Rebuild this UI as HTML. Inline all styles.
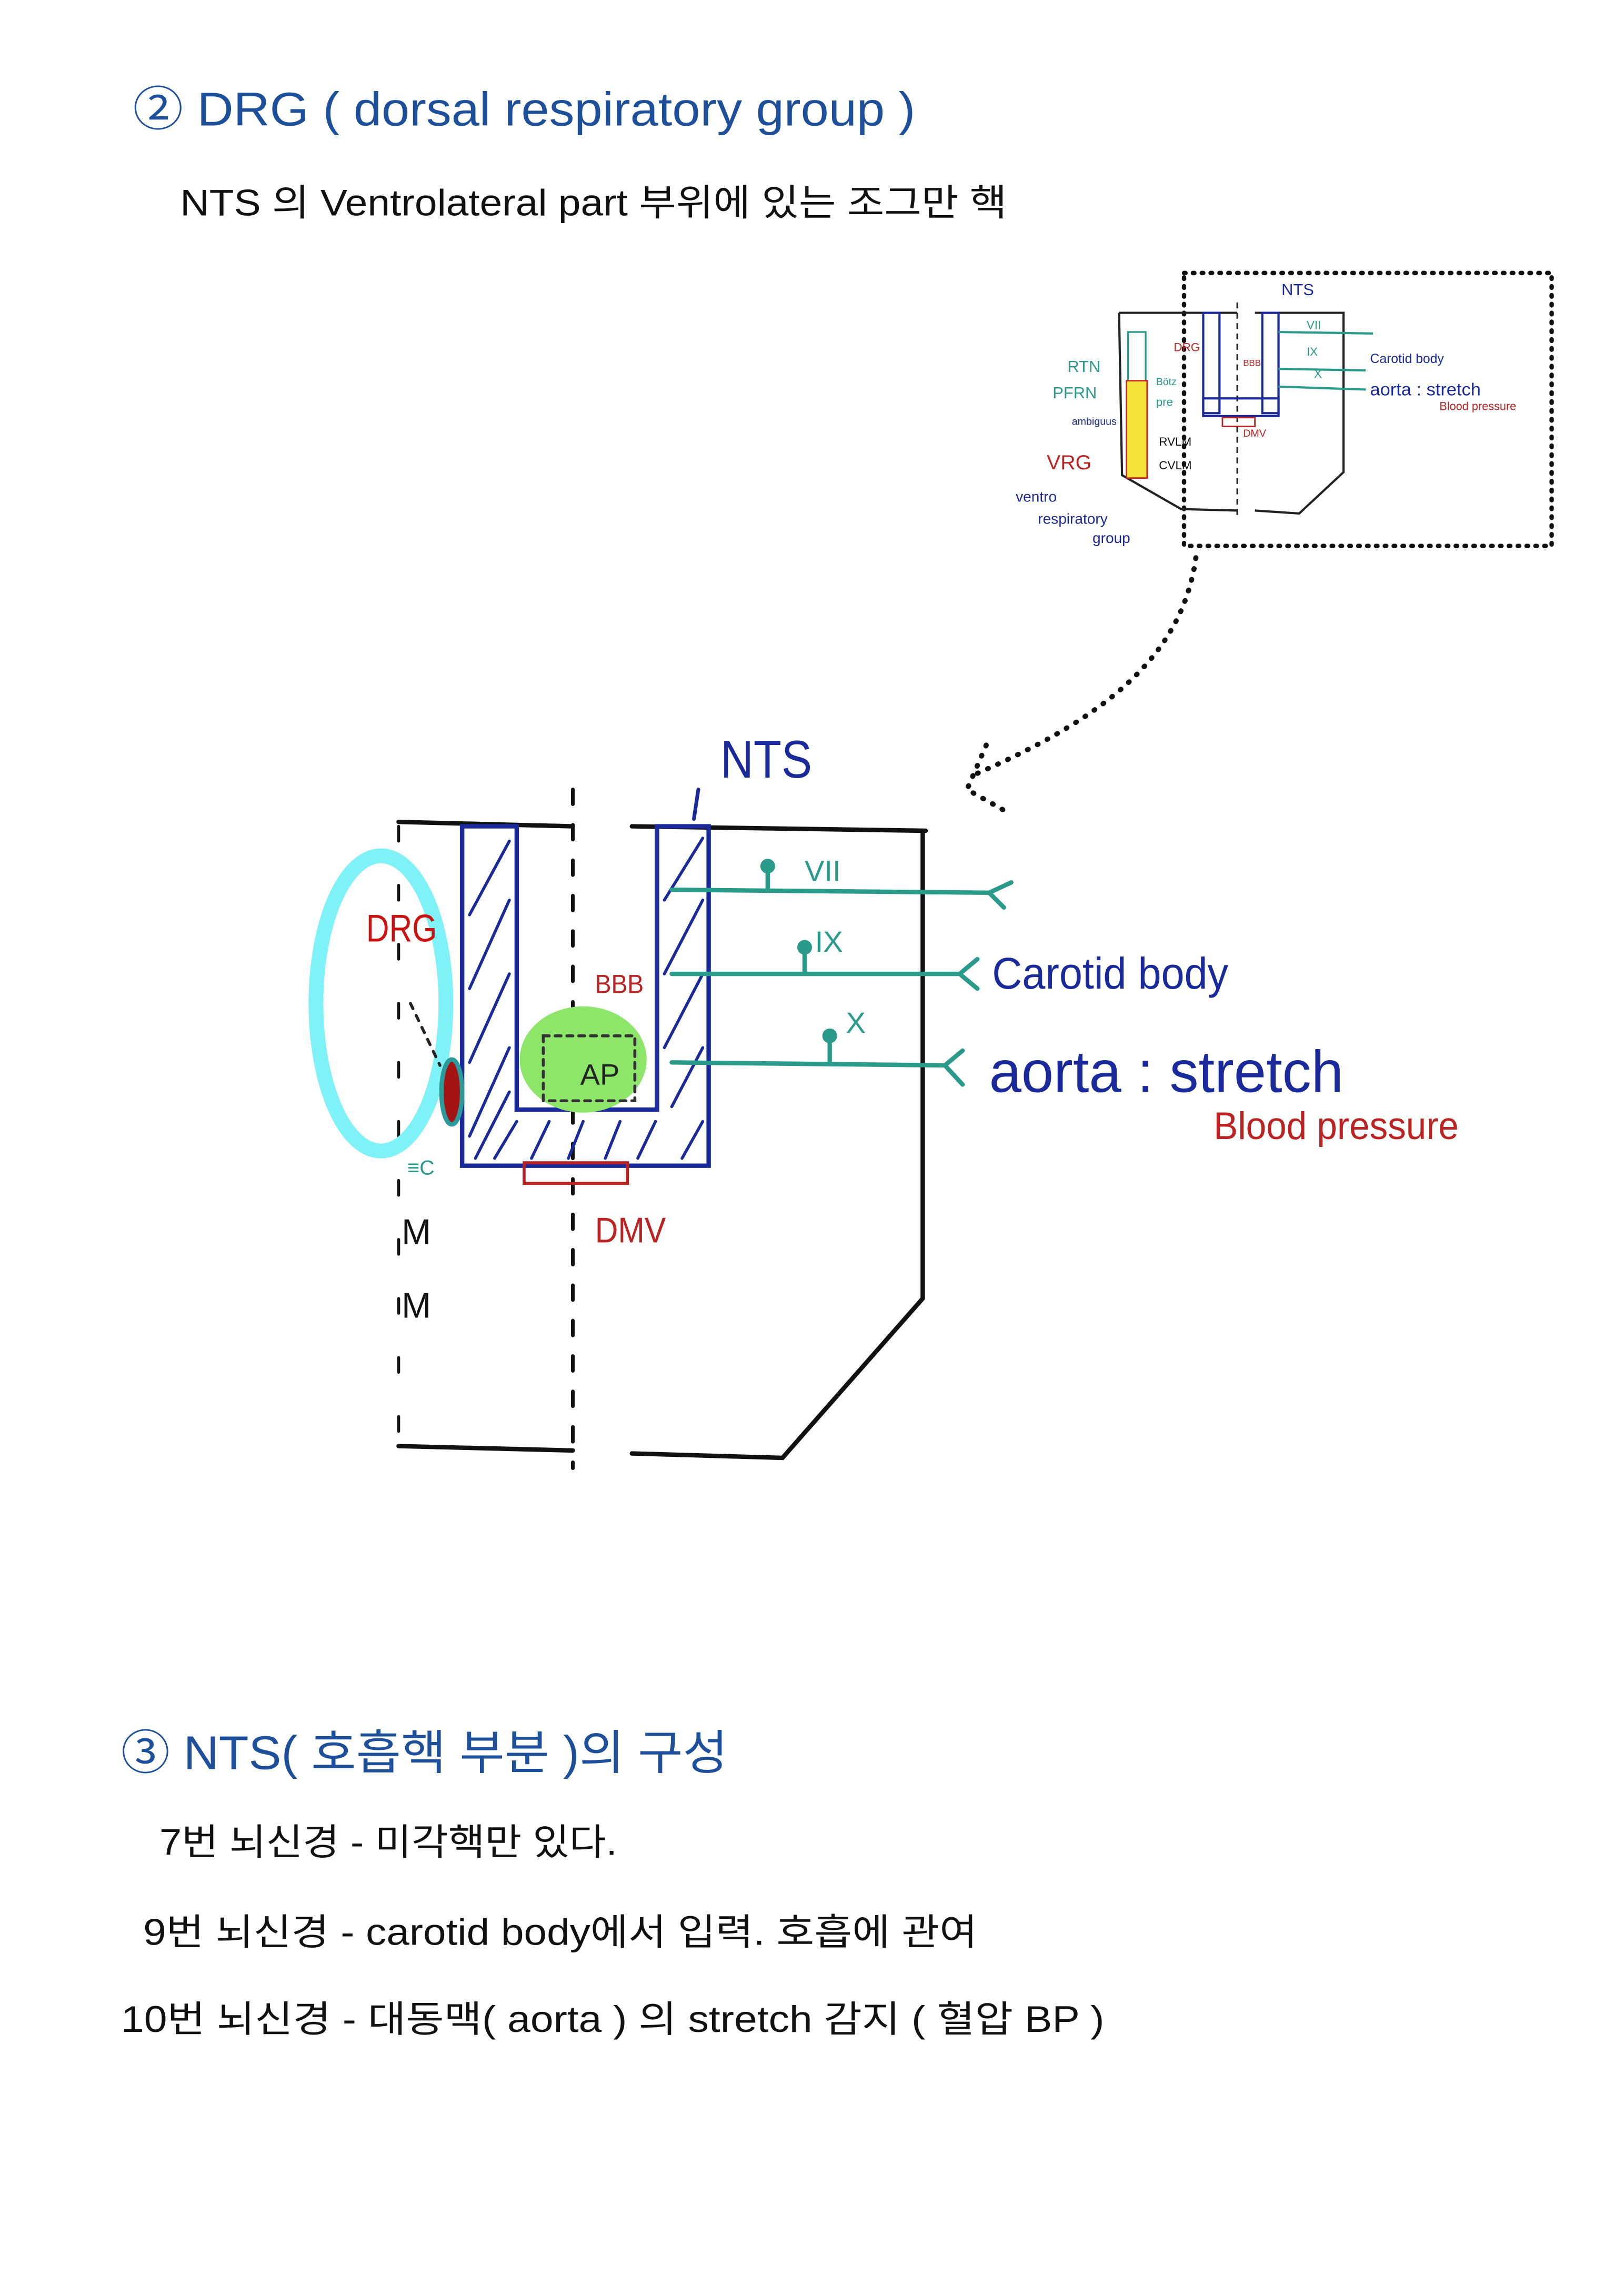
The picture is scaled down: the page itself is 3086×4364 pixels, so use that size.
<!DOCTYPE html>
<html><head><meta charset="utf-8"><style>
html,body{margin:0;padding:0;background:#fff;}
svg{display:block;}
.t{font-family:"Liberation Sans","Noto Sans CJK KR",sans-serif;}
.h{font-family:"Liberation Sans",sans-serif;}
</style></head><body>
<svg width="3086" height="4364" viewBox="0 0 1100 1556" preserveAspectRatio="none" xmlns="http://www.w3.org/2000/svg">
<rect width="1100" height="1556" fill="#fff"/>
<!-- headings -->
<text class="t" x="90" y="85" font-size="32" fill="#1d4f9a" textLength="530" lengthAdjust="spacingAndGlyphs">② DRG ( dorsal respiratory group )</text>
<text class="t" x="122" y="146" font-size="25" fill="#111" textLength="560" lengthAdjust="spacingAndGlyphs">NTS 의 Ventrolateral part 부위에 있는 조그만 핵</text>
<text class="t" x="82" y="1199" font-size="32" fill="#1d4f9a" textLength="411" lengthAdjust="spacingAndGlyphs">③ NTS( 호흡핵 부분 )의 구성</text>
<text class="t" x="108" y="1257" font-size="25" fill="#111" textLength="310" lengthAdjust="spacingAndGlyphs">7번 뇌신경 - 미각핵만 있다.</text>
<text class="t" x="97" y="1318" font-size="25" fill="#111" textLength="565" lengthAdjust="spacingAndGlyphs">9번 뇌신경 -  carotid body에서 입력. 호흡에 관여</text>
<text class="t" x="82" y="1377" font-size="25" fill="#111" textLength="666" lengthAdjust="spacingAndGlyphs">10번 뇌신경  -  대동맥( aorta ) 의 stretch 감지 ( 혈압 BP )</text>

<!-- inset -->
<g>
<rect x="802" y="185" width="249" height="185" fill="none" stroke="#111" stroke-width="3" stroke-dasharray="1 5" stroke-linecap="round"/>
<path d="M758 212 L838 212 M850 212 L910 212 L910 320 L880 348 L850 346 M838 346 L800 345 L760 322 L758 212" fill="none" stroke="#222" stroke-width="1.5"/>
<line x1="838" y1="205" x2="838" y2="350" stroke="#222" stroke-width="1" stroke-dasharray="4 3"/>
<rect x="815" y="212" width="11" height="68" fill="none" stroke="#1a2a9a" stroke-width="1.5"/>
<rect x="855" y="212" width="11" height="68" fill="none" stroke="#1a2a9a" stroke-width="1.5"/>
<rect x="815" y="270" width="51" height="12" fill="none" stroke="#1a2a9a" stroke-width="1.5"/>
<rect x="828" y="283" width="22" height="6" fill="none" stroke="#b22" stroke-width="1"/>
<rect x="764" y="225" width="12" height="42" fill="none" stroke="#2a9a8a" stroke-width="1.2"/>
<rect x="763" y="258" width="14" height="66" fill="#f5e43a" stroke="#c22" stroke-width="1"/>
<path d="M866 225 L930 226 M866 250 L925 251 M866 262 L925 264" stroke="#2a9a8a" stroke-width="1.5" fill="none"/>
<text class="h" x="868" y="200" font-size="11" fill="#1a2a9a">NTS</text>
<text class="h" x="885" y="223" font-size="8" fill="#2a9a8a">VII</text>
<text class="h" x="885" y="241" font-size="8" fill="#2a9a8a">IX</text>
<text class="h" x="890" y="256" font-size="8" fill="#2a9a8a">X</text>
<text class="h" x="928" y="246" font-size="9" fill="#1a2a9a" textLength="50" lengthAdjust="spacingAndGlyphs">Carotid body</text>
<text class="h" x="928" y="268" font-size="12" fill="#1a2a9a" textLength="75" lengthAdjust="spacingAndGlyphs">aorta : stretch</text>
<text class="h" x="975" y="278" font-size="8" fill="#b22" textLength="52" lengthAdjust="spacingAndGlyphs">Blood pressure</text>
<text class="h" x="723" y="252" font-size="11" fill="#2a9a8a">RTN</text>
<text class="h" x="713" y="270" font-size="11" fill="#2a9a8a">PFRN</text>
<text class="h" x="726" y="288" font-size="7" fill="#1a2a9a">ambiguus</text>
<text class="h" x="709" y="318" font-size="14" fill="#b22">VRG</text>
<text class="h" x="785" y="302" font-size="8" fill="#111">RVLM</text>
<text class="h" x="785" y="318" font-size="8" fill="#111">CVLM</text>
<text class="h" x="783" y="261" font-size="7" fill="#2a9a8a">Bötz</text>
<text class="h" x="783" y="275" font-size="8" fill="#2a9a8a">pre</text>
<text class="h" x="795" y="238" font-size="8" fill="#b22">DRG</text>
<text class="h" x="842" y="248" font-size="6" fill="#b22">BBB</text>
<text class="h" x="842" y="296" font-size="7" fill="#b22">DMV</text>
<text class="h" x="688" y="340" font-size="10" fill="#1a2a9a">ventro</text>
<text class="h" x="703" y="355" font-size="10" fill="#1a2a9a">respiratory</text>
<text class="h" x="740" y="368" font-size="10" fill="#1a2a9a">group</text>
</g>
<!-- dotted arrow -->
<path d="M810 378 C800 450 740 490 660 525" fill="none" stroke="#111" stroke-width="3.5" stroke-dasharray="0.5 7" stroke-linecap="round"/>
<path d="M668 505 L655 535 L685 552" fill="none" stroke="#111" stroke-width="3.5" stroke-dasharray="0.5 7" stroke-linecap="round"/>

<!-- main diagram -->
<g fill="none" stroke-linecap="round">
<path d="M270 557 L388 560 M428 560 L627 563" stroke="#111" stroke-width="3"/>
<path d="M625 563 L625 880 L530 988 L428 985" stroke="#111" stroke-width="3"/>
<path d="M270 980 L388 983" stroke="#111" stroke-width="3"/>
<line x1="388" y1="535" x2="388" y2="995" stroke="#111" stroke-width="2.5" stroke-dasharray="10 14"/>
<line x1="270" y1="560" x2="270" y2="990" stroke="#111" stroke-width="2" stroke-dasharray="10 30"/>
<ellipse cx="258" cy="680" rx="44" ry="100" stroke="#7ef2f6" stroke-width="10"/>
<path d="M313 560 L313 790 L480 790 L480 560 L445 560 L445 752 L350 752 L350 560 Z" stroke="#1a2a9a" stroke-width="3"/>
<g stroke="#1a2a9a" stroke-width="2">
<path d="M318 620 L345 570 M318 670 L345 610 M318 720 L345 660 M318 770 L345 710 M322 785 L345 740"/>
<path d="M450 610 L476 568 M450 660 L476 610 M450 710 L476 660 M455 750 L476 710 M462 785 L476 760"/>
<path d="M335 785 L350 760 M360 785 L372 760 M385 785 L395 760 M410 785 L420 760 M432 785 L444 760"/>
</g>
<ellipse cx="395" cy="718" rx="43" ry="36" fill="#8de56a" stroke="none"/>
<rect x="368" y="702" width="62" height="44" stroke="#333" stroke-width="2" stroke-dasharray="4 4"/>
<rect x="355" y="788" width="70" height="14" stroke="#b22" stroke-width="2"/>
<ellipse cx="306" cy="740" rx="7" ry="22" fill="#a41414" stroke="#2a9a9a" stroke-width="3"/>
<path d="M278 680 L298 722" stroke="#222" stroke-width="2" stroke-dasharray="4 5"/>
<path d="M473 535 L470 555" stroke="#1a2a9a" stroke-width="2.5"/>
<g stroke="#2a9a8a" stroke-width="3">
<path d="M455 603 L670 605 L685 598 M670 605 L680 615"/>
<path d="M455 660 L650 660 L662 650 M650 660 L662 670"/>
<path d="M455 720 L640 722 L652 712 M640 722 L652 735"/>
<path d="M520 603 L520 590 M545 660 L545 645 M562 720 L562 705"/>
</g>
<g fill="#2a9a8a"><circle cx="520" cy="587" r="5"/><circle cx="545" cy="642" r="5"/><circle cx="562" cy="702" r="5"/></g>
</g>
<text class="h" x="488" y="527" font-size="36" fill="#1a2a9a" textLength="62" lengthAdjust="spacingAndGlyphs">NTS</text>
<text class="h" x="545" y="597" font-size="20" fill="#2a9a8a">VII</text>
<text class="h" x="552" y="645" font-size="20" fill="#2a9a8a">IX</text>
<text class="h" x="573" y="700" font-size="20" fill="#2a9a8a">X</text>
<text class="h" x="672" y="670" font-size="30" fill="#1a2a9a" textLength="160" lengthAdjust="spacingAndGlyphs">Carotid body</text>
<text class="h" x="670" y="740" font-size="40" fill="#1a2a9a" textLength="240" lengthAdjust="spacingAndGlyphs">aorta : stretch</text>
<text class="h" x="822" y="772" font-size="26" fill="#b22" textLength="166" lengthAdjust="spacingAndGlyphs">Blood pressure</text>
<text class="h" x="403" y="673" font-size="18" fill="#b22" textLength="33" lengthAdjust="spacingAndGlyphs">BBB</text>
<text class="h" x="393" y="735" font-size="20" fill="#222">AP</text>
<text class="h" x="248" y="638" font-size="26" fill="#c11" textLength="48" lengthAdjust="spacingAndGlyphs">DRG</text>
<text class="h" x="403" y="842" font-size="24" fill="#b22" textLength="48" lengthAdjust="spacingAndGlyphs">DMV</text>
<text class="h" x="272" y="843" font-size="24" fill="#111">M</text>
<text class="h" x="272" y="893" font-size="24" fill="#111">M</text>
<text class="h" x="276" y="796" font-size="14" fill="#2a9a8a">≡C</text>
</svg>
</body></html>
